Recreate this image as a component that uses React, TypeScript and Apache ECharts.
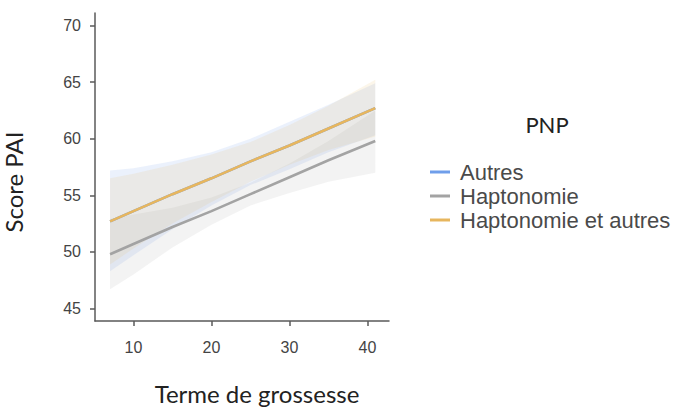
import React, { useEffect, useRef } from "react";
import * as echarts from "echarts";

const xs = [7, 10, 15, 20, 25, 30, 35, 41];

const autresFit = [52.7, 53.6, 55.1, 56.5, 58.0, 59.4, 60.9, 62.7];
const autresUpper = [57.2, 57.4, 58.0, 58.8, 60.0, 61.5, 63.0, 64.9];
const autresLower = [48.3, 49.7, 52.0, 54.1, 55.9, 57.3, 58.8, 60.3];

const haptoFit = [49.8, 50.7, 52.2, 53.6, 55.1, 56.6, 58.1, 59.8];
const haptoUpper = [52.9, 53.3, 53.9, 54.8, 56.1, 57.8, 59.8, 62.5];
const haptoLower = [46.7, 48.0, 50.4, 52.4, 54.1, 55.2, 56.2, 57.0];

const bothFit = [52.7, 53.6, 55.1, 56.5, 58.0, 59.4, 60.9, 62.7];
const bothUpper = [56.5, 56.9, 57.7, 58.6, 59.7, 61.2, 62.9, 65.2];
const bothLower = [48.9, 50.3, 52.5, 54.4, 56.2, 57.7, 59.0, 60.2];

const groups = ["Autres", "Haptonomie", "Haptonomie et autres"];
const yTicks = [45, 50, 55, 60, 65, 70];
const xTicks = [10, 20, 30, 40];

const lineColors = ["#6f9eea", "#a3a3a3", "#e7b65e"];
const bandColors = [
  "rgba(111,158,234,0.14)",
  "rgba(163,163,163,0.13)",
  "rgba(231,182,94,0.13)",
];

const pairs = (ys: number[]) => xs.map((x, i) => [x, ys[i]]);

export default function App() {
  const ref = useRef<HTMLDivElement>(null);
  useEffect(() => {
    if (!ref.current) return;
    const chart = echarts.init(ref.current, null, { renderer: "svg" });
    const fits = [autresFit, haptoFit, bothFit];
    const uppers = [autresUpper, haptoUpper, bothUpper];
    const lowers = [autresLower, haptoLower, bothLower];
    const series: any[] = [];
    groups.forEach((g, i) => {
      const rows = xs.map((x, k) => [x, lowers[i][k], uppers[i][k]]);
      series.push({
        name: g + " IC",
        type: "custom",
        data: rows,
        encode: { x: 0, y: [1, 2] },
        silent: true,
        z: 1,
        renderItem: (params: any, api: any) => {
          if (params.dataIndex !== 0) return null;
          const top = rows.map((r) => api.coord([r[0], r[2]]));
          const bot = rows
            .slice()
            .reverse()
            .map((r) => api.coord([r[0], r[1]]));
          return {
            type: "polygon",
            shape: { points: top.concat(bot) },
            style: { fill: bandColors[i], stroke: null },
          };
        },
      });
    });
    groups.forEach((g, i) => {
      series.push({
        name: g,
        type: "line",
        data: pairs(fits[i]),
        symbol: "none",
        lineStyle: { color: lineColors[i], width: 2.6 },
        itemStyle: { color: lineColors[i] },
        z: 3,
      });
    });
    chart.setOption({
      animation: false,
      title: {
        text: "PNP",
        left: 542,
        textAlign: "center",
        top: 108,
        textStyle: {
          fontFamily: "Lato",
          fontWeight: "normal",
          fontSize: 22,
          color: "#222",
        },
      },
      legend: {
        data: groups,
        orient: "vertical",
        left: 425,
        top: 156,
        itemWidth: 20,
        itemHeight: 3,
        itemGap: 2,
        icon: "rect",
        textStyle: {
          fontFamily: "Liberation Sans",
          fontSize: 22,
          color: "#4a4a4a",
          padding: [0, 0, 0, 5],
        },
      },
      grid: { left: 93, right: 285, top: 13, bottom: 87 },
      xAxis: {
        type: "value",
        min: 5.07,
        max: 42.76,
        name: "Terme de grossesse",
        nameLocation: "middle",
        nameGap: 60,
        nameTextStyle: {
          fontFamily: "Lato",
          fontSize: 24,
          color: "#222",
          padding: [0, 0, 0, 30],
        },
        axisLine: { lineStyle: { color: "#5a5a5a", width: 1.5 } },
        axisTick: {
          show: true,
          length: 5,
          lineStyle: { color: "#5a5a5a", width: 1.5 },
          customValues: xTicks,
        },
        axisLabel: {
          fontFamily: "Liberation Sans",
          fontSize: 16,
          color: "#444",
          margin: 18,
          customValues: xTicks,
        },
        splitLine: { show: false },
      },
      yAxis: {
        type: "value",
        min: 43.9,
        max: 71.1,
        name: "Score PAI",
        nameLocation: "middle",
        nameGap: 70,
        nameTextStyle: {
          fontFamily: "Lato",
          fontSize: 24,
          color: "#222",
          padding: [0, 30, 0, 0],
        },
        axisLine: { show: true, lineStyle: { color: "#5a5a5a", width: 1.5 } },
        axisTick: {
          show: true,
          length: 5,
          lineStyle: { color: "#5a5a5a", width: 1.5 },
          customValues: yTicks,
        },
        axisLabel: {
          fontFamily: "Liberation Sans",
          fontSize: 16,
          color: "#444",
          margin: 14,
          customValues: yTicks,
        },
        splitLine: { show: false },
      },
      series,
    });
    return () => chart.dispose();
  }, []);
  return (
    <div
      ref={ref}
      style={{ position: "absolute", left: 0, top: 0, width: 674, height: 410 }}
    />
  );
}
